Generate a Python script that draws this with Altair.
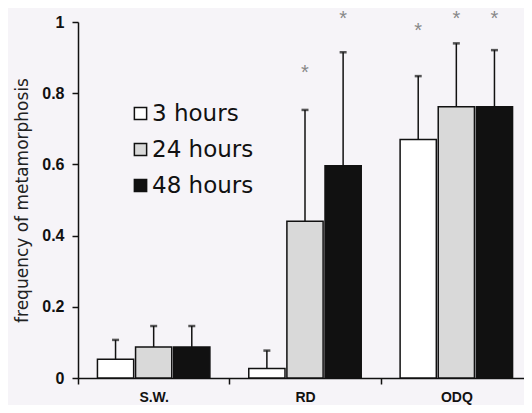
import altair as alt
import pandas as pd

groups = ["S.W.", "RD", "ODQ"]
series = ["3 hours", "24 hours", "48 hours"]
colors = ["#ffffff", "#d9d9d9", "#111111"]

mean_3h = [0.053, 0.027, 0.670]
mean_24h = [0.087, 0.440, 0.762]
mean_48h = [0.087, 0.596, 0.762]

upper_3h = [0.107, 0.077, 0.848]
upper_24h = [0.146, 0.753, 0.940]
upper_48h = [0.146, 0.915, 0.921]

star_3h = [None, None, 0.980]
star_24h = [None, 0.863, 1.015]
star_48h = [None, 1.015, 1.015]

rows = []
for s, m, u, st in zip(series, [mean_3h, mean_24h, mean_48h],
                       [upper_3h, upper_24h, upper_48h],
                       [star_3h, star_24h, star_48h]):
    for g, mv, uv, sv in zip(groups, m, u, st):
        rows.append({"group": g, "series": s, "mean": mv, "upper": uv, "star": sv})
df = pd.DataFrame(rows)

x = alt.X("group:N", sort=groups,
          scale=alt.Scale(paddingInner=0, paddingOuter=0),
          axis=alt.Axis(title=None, tickBand="extent", labelAngle=0,
                        labelFontWeight="bold", labelFontSize=14,
                        labelFont="Liberation Sans", labelColor="#111",
                        labelPadding=6, tickSize=6, tickColor="#111",
                        domainColor="#111", domainWidth=1.5, tickWidth=1.5))
xo = alt.XOffset("series:N", sort=series,
                 scale=alt.Scale(paddingInner=0.05, paddingOuter=0.51))
y = alt.Y("mean:Q",
          scale=alt.Scale(domain=[0, 1]),
          axis=alt.Axis(title="frequency of metamorphosis", values=[0, 0.2, 0.4, 0.6, 0.8, 1],
                        format="~g", grid=False, labelFontSize=16, labelFontWeight="bold",
                        labelFont="Liberation Sans", labelColor="#111",
                        titleFont="DejaVu Sans", titleFontSize=17,
                        titleFontWeight="normal", titleColor="#222222", titlePadding=10,
                        tickSize=6, tickColor="#111", domainColor="#111",
                        domainWidth=1.5, tickWidth=1.5, labelPadding=8))

color = alt.Color("series:N", sort=series,
                  scale=alt.Scale(domain=series, range=colors),
                  legend=alt.Legend(title=None, orient="none", legendX=51, legendY=80,
                                    symbolType="square", symbolSize=150,
                                    symbolStrokeColor="#111", symbolStrokeWidth=1.5,
                                    symbolOpacity=1,
                                    labelFontSize=23, labelFont="DejaVu Sans",
                                    labelColor="#111", rowPadding=12, padding=0,
                                    labelOffset=0))

bars = alt.Chart(df).mark_bar(stroke="#111", strokeWidth=1.5, opacity=1).encode(
    x=x, xOffset=xo, y=y, color=color)

err = alt.Chart(df).mark_rule(color="#111", strokeWidth=1.5).encode(
    x=x, xOffset=xo, y="mean:Q", y2="upper:Q")

cap = alt.Chart(df).mark_tick(color="#111", thickness=2.5, size=7, orient="horizontal").encode(
    x=x, xOffset=xo, y="upper:Q")

stars = alt.Chart(df).transform_filter("datum.star != null").mark_text(
    text="*", fontSize=20, color="#888", font="Liberation Sans", baseline="top", dy=-8
).encode(x=x, xOffset=xo, y="star:Q")

chart = alt.layer(bars, err, cap, stars).properties(
    width=454, height=356,
    autosize=alt.AutoSizeParams(type="none"),
    padding={"left": 70, "top": 14, "right": -8, "bottom": 27},
    background="#f6f4f8"
).configure_view(stroke=None)

chart.save("out.html", embed_options={"renderer": "svg", "actions": False})
